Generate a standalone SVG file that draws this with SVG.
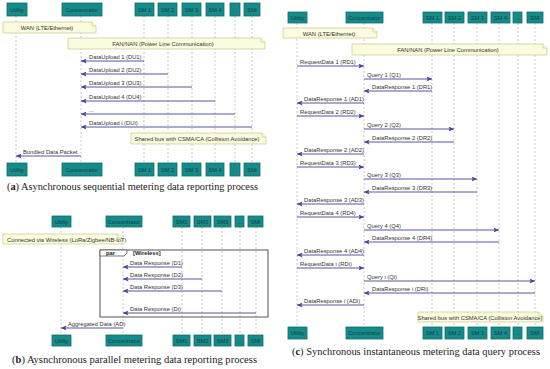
<svg xmlns="http://www.w3.org/2000/svg" width="550" height="369" viewBox="0 0 550 369">
<style>
.bg{fill:#ffffff}
.box{fill:#178a8a;stroke:#0e6b6b;stroke-width:0.8}
.bt{font-family:"Liberation Sans",Arial,sans-serif;font-size:5.6px;fill:#0b4444;text-anchor:middle}
.life{stroke:#b0b0b0;stroke-width:0.7;stroke-dasharray:2,2;fill:none}
.msg{stroke:#44449a;stroke-width:0.9;fill:none;marker-end:url(#ah)}
.lbl{font-family:"Liberation Sans",Arial,sans-serif;font-size:5.8px;fill:#333333}
.note{fill:#fbfbdd;stroke:#c9c98e;stroke-width:0.7}
.nt{font-family:"Liberation Sans",Arial,sans-serif;font-size:5.8px;fill:#333333;text-anchor:middle}
.frame{fill:none;stroke:#555555;stroke-width:1}
.ft{font-family:"Liberation Sans",Arial,sans-serif;font-size:5.8px;font-weight:bold;fill:#222222}
.cap{font-family:"Liberation Serif","Times New Roman",serif;font-size:9.6px;fill:#222222;text-anchor:middle}
</style>
<defs>
<marker id="ah" markerUnits="userSpaceOnUse" markerWidth="6" markerHeight="5" refX="5.5" refY="2.5" orient="auto">
<path d="M0,0 L5.5,2.5 L0,5 L1.2,2.5 z" fill="#44449a"/>
</marker>
</defs>
<rect class="bg" x="0" y="0" width="550" height="369"/>

<!-- ================= Panel (a) ================= -->
<g id="panel-a">
<g id="a-lifelines">
<line class="life" x1="16" y1="16" x2="16" y2="163"/>
<line class="life" x1="81" y1="16" x2="81" y2="163"/>
<line class="life" x1="144" y1="16" x2="144" y2="163"/>
<line class="life" x1="168" y1="16" x2="168" y2="163"/>
<line class="life" x1="192" y1="16" x2="192" y2="163"/>
<line class="life" x1="215" y1="16" x2="215" y2="163"/>
<line class="life" x1="235" y1="16" x2="235" y2="163"/>
<line class="life" x1="252" y1="16" x2="252" y2="163"/>
</g>
<g id="a-utility"><rect class="box" x="7" y="3" width="20" height="13"/><text class="bt" x="17" y="11.5">Utility</text>
<rect class="box" x="7" y="163" width="20" height="13"/><text class="bt" x="17" y="171.5">Utility</text></g>
<g id="a-concentrator"><rect class="box" x="62" y="3" width="40" height="13"/><text class="bt" x="82" y="11.5">Concentrator</text>
<rect class="box" x="62" y="163" width="40" height="13"/><text class="bt" x="82" y="171.5">Concentrator</text></g>
<g id="a-sm1"><rect class="box" x="135" y="3" width="19" height="13"/><text class="bt" x="144.5" y="11.5">SM 1</text>
<rect class="box" x="135" y="163" width="19" height="13"/><text class="bt" x="144.5" y="171.5">SM 1</text></g>
<g id="a-sm2"><rect class="box" x="158" y="3" width="19" height="13"/><text class="bt" x="167.5" y="11.5">SM 2</text>
<rect class="box" x="158" y="163" width="19" height="13"/><text class="bt" x="167.5" y="171.5">SM 2</text></g>
<g id="a-sm3"><rect class="box" x="182" y="3" width="19" height="13"/><text class="bt" x="191.5" y="11.5">SM 3</text>
<rect class="box" x="182" y="163" width="19" height="13"/><text class="bt" x="191.5" y="171.5">SM 3</text></g>
<g id="a-sm4"><rect class="box" x="206" y="3" width="18" height="13"/><text class="bt" x="215" y="11.5">SM 4</text>
<rect class="box" x="206" y="163" width="18" height="13"/><text class="bt" x="215" y="171.5">SM 4</text></g>
<g id="a-dots"><rect class="box" x="230" y="3" width="10" height="13"/><text class="bt" x="235" y="11.5">...</text>
<rect class="box" x="230" y="163" width="10" height="13"/><text class="bt" x="235" y="171.5">...</text></g>
<g id="a-smi"><rect class="box" x="244" y="3" width="16" height="13"/><text class="bt" x="252" y="11.5">SMi</text>
<rect class="box" x="244" y="163" width="16" height="13"/><text class="bt" x="252" y="171.5">SMi</text></g>
<g id="a-note-wan"><path class="note" d="M3,22 H92 L96,26 V33 H3 Z"/><path class="note" d="M92,22 V26 H96"/><text class="nt" x="47" y="30">WAN (LTE/Ethernet)</text></g>
<g id="a-note-fan"><path class="note" d="M68,38 H261 L265,42 V49 H68 Z"/><path class="note" d="M261,38 V42 H265"/><text class="nt" x="163" y="46">FAN/NAN (Power Line Communication)</text></g>
<g id="a-note-bus"><path class="note" d="M131,133 H262 L266,137 V144 H131 Z"/><path class="note" d="M262,133 V137 H266"/><text class="nt" x="197" y="141">Shared bus with CSMA/CA (Collision Avoidance)</text></g>
<g id="a-connectors">
<line class="msg" x1="144" y1="61" x2="81" y2="61"/><text class="lbl" x="89" y="58.5">DataUpload 1 (DU1)</text>
<line class="msg" x1="168" y1="74" x2="81" y2="74"/><text class="lbl" x="89" y="71.5">DataUpload 2 (DU2)</text>
<line class="msg" x1="192" y1="87" x2="81" y2="87"/><text class="lbl" x="89" y="84.5">DataUpload 3 (DU3)</text>
<line class="msg" x1="215" y1="101" x2="81" y2="101"/><text class="lbl" x="89" y="98.5">DataUpload 4 (DU4)</text>
<line class="msg" x1="235" y1="114" x2="81" y2="114"/><text class="lbl" x="89" y="111.5">...</text>
<line class="msg" x1="252" y1="127" x2="81" y2="127"/><text class="lbl" x="89" y="124.5">DataUpload i (DUi)</text>
<line class="msg" x1="81" y1="156" x2="16" y2="156"/><text class="lbl" x="23" y="153.5">Bundled Data Packet</text>
</g>
<text class="cap" x="132.5" y="190" textLength="251" lengthAdjust="spacingAndGlyphs">(<tspan font-weight="bold">a</tspan>) Asynchronous sequential metering data reporting process</text>
</g>

<!-- ================= Panel (b) ================= -->
<g id="panel-b">
<g id="b-lifelines">
<line class="life" x1="61" y1="227" x2="61" y2="335"/>
<line class="life" x1="123" y1="227" x2="123" y2="335"/>
<line class="life" x1="182" y1="227" x2="182" y2="335"/>
<line class="life" x1="202" y1="227" x2="202" y2="335"/>
<line class="life" x1="222" y1="227" x2="222" y2="335"/>
<line class="life" x1="240" y1="227" x2="240" y2="335"/>
<line class="life" x1="256" y1="227" x2="256" y2="335"/>
</g>
<g id="b-utility"><rect class="box" x="52" y="216" width="19" height="11"/><text class="bt" x="61.5" y="223.5">Utility</text>
<rect class="box" x="52" y="335" width="19" height="11"/><text class="bt" x="61.5" y="342.5">Utility</text></g>
<g id="b-concentrator"><rect class="box" x="106" y="216" width="36" height="11"/><text class="bt" x="124" y="223.5">Concentrator</text>
<rect class="box" x="106" y="335" width="36" height="11"/><text class="bt" x="124" y="342.5">Concentrator</text></g>
<g id="b-sm1"><rect class="box" x="173" y="216" width="17" height="11"/><text class="bt" x="181.5" y="223.5">SM1</text>
<rect class="box" x="173" y="335" width="17" height="11"/><text class="bt" x="181.5" y="342.5">SM1</text></g>
<g id="b-sm2"><rect class="box" x="194" y="216" width="17" height="11"/><text class="bt" x="202.5" y="223.5">SM2</text>
<rect class="box" x="194" y="335" width="17" height="11"/><text class="bt" x="202.5" y="342.5">SM2</text></g>
<g id="b-sm3"><rect class="box" x="214" y="216" width="17" height="11"/><text class="bt" x="222.5" y="223.5">SM3</text>
<rect class="box" x="214" y="335" width="17" height="11"/><text class="bt" x="222.5" y="342.5">SM3</text></g>
<g id="b-dots"><rect class="box" x="235" y="216" width="9" height="11"/><text class="bt" x="239.5" y="223.5">...</text>
<rect class="box" x="235" y="335" width="9" height="11"/><text class="bt" x="239.5" y="342.5">...</text></g>
<g id="b-smi"><rect class="box" x="248" y="216" width="15" height="11"/><text class="bt" x="255.5" y="223.5">SMi</text>
<rect class="box" x="248" y="335" width="15" height="11"/><text class="bt" x="255.5" y="342.5">SMi</text></g>
<g id="b-note-wireless"><path class="note" d="M3,234 H118 L122,238 V244 H3 Z"/><path class="note" d="M118,234 V238 H122"/><text class="lbl" x="7" y="241.5">Connected via Wireless (LoRa/Zigbee/NB-IoT)</text></g>
<g id="b-par">
<rect class="frame" x="100" y="250" width="168" height="67" fill="#ffffff"/>
<path d="M100,250 H127 V253 L124,256 H100 Z" fill="#ffffff" stroke="#555555" stroke-width="0.8"/>
<text class="ft" x="106" y="255">par</text>
<text class="ft" x="133" y="255">[Wireless]</text>
</g>
<g id="b-connectors">
<line class="msg" x1="182" y1="267" x2="123" y2="267"/><text class="lbl" x="130" y="264.5">Data Response (D1)</text>
<line class="msg" x1="202" y1="279" x2="123" y2="279"/><text class="lbl" x="130" y="276.5">Data Response (D2)</text>
<line class="msg" x1="222" y1="291" x2="123" y2="291"/><text class="lbl" x="130" y="288.5">Data Response (D3)</text>
<line class="msg" x1="256" y1="313" x2="123" y2="313"/><text class="lbl" x="130" y="310.5">Data Response (Di)</text>
<line class="msg" x1="123" y1="328" x2="61" y2="328"/><text class="lbl" x="68" y="325.5">Aggregated Data (AD)</text>
</g>
<text class="cap" x="134.5" y="363" textLength="245" lengthAdjust="spacingAndGlyphs">(<tspan font-weight="bold">b</tspan>) Aysnchronous parallel metering data reporting process</text>
</g>

<!-- ================= Panel (c) ================= -->
<g id="panel-c">
<g id="c-lifelines">
<line class="life" x1="297" y1="23" x2="297" y2="327"/>
<line class="life" x1="364" y1="23" x2="364" y2="327"/>
<line class="life" x1="432" y1="23" x2="432" y2="327"/>
<line class="life" x1="454" y1="23" x2="454" y2="327"/>
<line class="life" x1="477" y1="23" x2="477" y2="327"/>
<line class="life" x1="499" y1="23" x2="499" y2="327"/>
<line class="life" x1="518" y1="23" x2="518" y2="327"/>
<line class="life" x1="535" y1="23" x2="535" y2="327"/>
</g>
<g id="c-utility"><rect class="box" x="288" y="12" width="19" height="11"/><text class="bt" x="297.5" y="19.5">Utility</text>
<rect class="box" x="288" y="327" width="19" height="12"/><text class="bt" x="297.5" y="335">Utility</text></g>
<g id="c-concentrator"><rect class="box" x="346" y="12" width="37" height="11"/><text class="bt" x="364.5" y="19.5">Concentrator</text>
<rect class="box" x="346" y="327" width="37" height="12"/><text class="bt" x="364.5" y="335">Concentrator</text></g>
<g id="c-sm1"><rect class="box" x="423" y="12" width="19" height="11"/><text class="bt" x="432.5" y="19.5">SM 1</text>
<rect class="box" x="423" y="327" width="19" height="12"/><text class="bt" x="432.5" y="335">SM 1</text></g>
<g id="c-sm2"><rect class="box" x="445" y="12" width="19" height="11"/><text class="bt" x="454.5" y="19.5">SM 2</text>
<rect class="box" x="445" y="327" width="19" height="12"/><text class="bt" x="454.5" y="335">SM 2</text></g>
<g id="c-sm3"><rect class="box" x="468" y="12" width="19" height="11"/><text class="bt" x="477.5" y="19.5">SM 3</text>
<rect class="box" x="468" y="327" width="19" height="12"/><text class="bt" x="477.5" y="335">SM 3</text></g>
<g id="c-sm4"><rect class="box" x="491" y="12" width="19" height="11"/><text class="bt" x="500.5" y="19.5">SM 4</text>
<rect class="box" x="491" y="327" width="19" height="12"/><text class="bt" x="500.5" y="335">SM 4</text></g>
<g id="c-dots"><rect class="box" x="513" y="12" width="9" height="11"/><text class="bt" x="517.5" y="19.5">...</text>
<rect class="box" x="513" y="327" width="9" height="12"/><text class="bt" x="517.5" y="335">...</text></g>
<g id="c-smi"><rect class="box" x="527" y="12" width="16" height="11"/><text class="bt" x="535" y="19.5">SMi</text>
<rect class="box" x="527" y="327" width="16" height="12"/><text class="bt" x="535" y="335">SMi</text></g>
<g id="c-note-wan"><path class="note" d="M283,28 H373 L377,32 V38 H283 Z"/><path class="note" d="M373,28 V32 H377"/><text class="nt" x="329" y="35.5">WAN (LTE/Ethernet)</text></g>
<g id="c-note-fan"><path class="note" d="M352,44 H543 L547,48 V55 H352 Z"/><path class="note" d="M543,44 V48 H547"/><text class="nt" x="448" y="52">FAN/NAN (Power Line Communication)</text></g>
<g id="c-note-bus"><path class="note" d="M418,312 H539 L543,316 V322 H418 Z"/><path class="note" d="M539,312 V316 H543"/><text class="nt" x="480" y="319.5">Shared bus with CSMA/CA (Collision Avoidance)</text></g>
<g id="c-connectors">
<line class="msg" x1="297" y1="66" x2="364" y2="66"/><text class="lbl" x="300" y="63.5">RequestData 1 (RD1)</text>
<line class="msg" x1="364" y1="79" x2="432" y2="79"/><text class="lbl" x="367" y="76.5">Query 1 (Q1)</text>
<line class="msg" x1="432" y1="91" x2="364" y2="91"/><text class="lbl" x="372" y="88.5">DataResponse 1 (DR1)</text>
<line class="msg" x1="364" y1="103" x2="297" y2="103"/><text class="lbl" x="304" y="100.5">DataResponse 1 (AD1)</text>
<line class="msg" x1="297" y1="116" x2="364" y2="116"/><text class="lbl" x="300" y="113.5">RequestData 2 (RD2)</text>
<line class="msg" x1="364" y1="129" x2="454" y2="129"/><text class="lbl" x="367" y="126.5">Query 2 (Q2)</text>
<line class="msg" x1="454" y1="142" x2="364" y2="142"/><text class="lbl" x="372" y="139.5">DataResponse 2 (DR2)</text>
<line class="msg" x1="364" y1="154" x2="297" y2="154"/><text class="lbl" x="304" y="151.5">DataResponse 2 (AD2)</text>
<line class="msg" x1="297" y1="167" x2="364" y2="167"/><text class="lbl" x="300" y="164.5">RequestData 3 (RD3)</text>
<line class="msg" x1="364" y1="179" x2="477" y2="179"/><text class="lbl" x="367" y="176.5">Query 3 (Q3)</text>
<line class="msg" x1="477" y1="192" x2="364" y2="192"/><text class="lbl" x="372" y="189.5">DataResponse 3 (DR3)</text>
<line class="msg" x1="364" y1="204" x2="297" y2="204"/><text class="lbl" x="304" y="201.5">DataResponse 3 (AD3)</text>
<line class="msg" x1="297" y1="217" x2="364" y2="217"/><text class="lbl" x="300" y="214.5">RequestData 4 (RD4)</text>
<line class="msg" x1="364" y1="230" x2="499" y2="230"/><text class="lbl" x="367" y="227.5">Query 4 (Q4)</text>
<line class="msg" x1="499" y1="242" x2="364" y2="242"/><text class="lbl" x="372" y="239.5">DataResponse 4 (DR4)</text>
<line class="msg" x1="364" y1="255" x2="297" y2="255"/><text class="lbl" x="304" y="252.5">DataResponse 4 (AD4)</text>
<line class="msg" x1="297" y1="268" x2="364" y2="268"/><text class="lbl" x="300" y="265.5">RequestData i (RDi)</text>
<line class="msg" x1="364" y1="281" x2="535" y2="281"/><text class="lbl" x="367" y="278.5">Query i (Qi)</text>
<line class="msg" x1="535" y1="293" x2="364" y2="293"/><text class="lbl" x="372" y="290.5">DataResponse i (DRi)</text>
<line class="msg" x1="364" y1="305" x2="297" y2="305"/><text class="lbl" x="304" y="302.5">DataResponse i (ADi)</text>
</g>
<text class="cap" x="416" y="355" textLength="248" lengthAdjust="spacingAndGlyphs">(<tspan font-weight="bold">c</tspan>) Synchronous instantaneous metering data query process</text>
</g>
</svg>
